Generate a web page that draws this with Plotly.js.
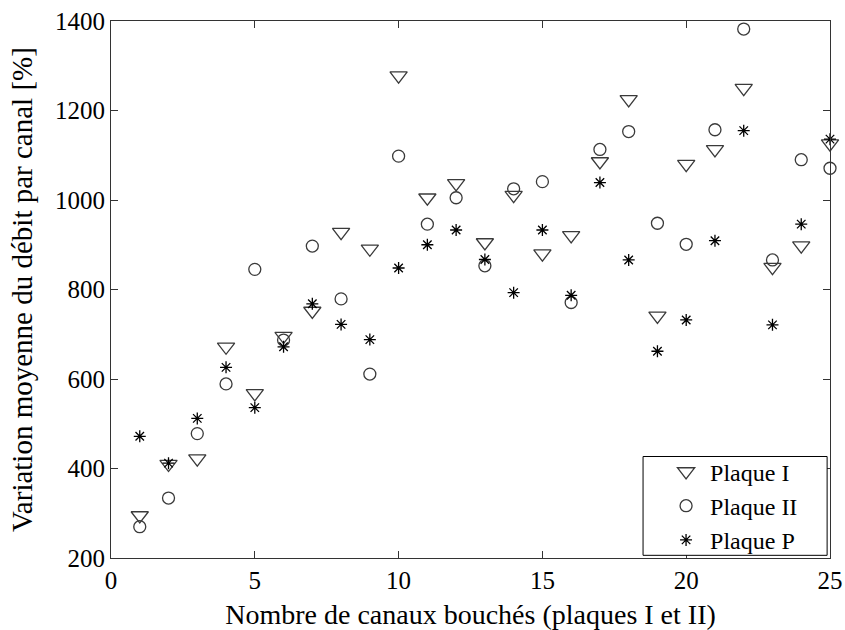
<!DOCTYPE html>
<html>
<head>
<meta charset="utf-8">
<script src="https://cdn.plot.ly/plotly-3.0.1.min.js"></script>
<style>html,body{margin:0;padding:0;background:#fff;}#chart{width:845px;height:630px;}</style>
</head>
<body>
<div id="chart"></div>
<script>
var canaux = [1,2,3,4,5,6,7,8,9,10,11,12,13,14,15,16,17,18,19,20,21,22,23,24,25];
var plaqueI  = [295,410,422,672,568,696,752,928,891,1278,1005,1037,905,1011,880,921,1086,1225,741,1080,1113,1250,850,898,1126];
var plaqueII = [270,334,478,589,845,687,897,779,611,1098,946,1005,853,1025,1041,771,1113,1153,948,901,1157,1382,866,1090,1071];
var plaqueP  = [472,412,512,626,536,672,768,722,688,848,900,933,867,793,933,787,1039,866,662,732,909,1155,721,946,1136];
var seriesNames = ['Plaque I','Plaque II','Plaque P'];
var xTickVals = [0,5,10,15,20,25];
var yTickVals = [200,400,600,800,1000,1200,1400];

var FONT = '"Liberation Serif", "Times New Roman", serif';
var traces = [
  {x: canaux, y: plaqueI, name: seriesNames[0], type: 'scatter', mode: 'markers', cliponaxis: false,
   marker: {symbol: 'triangle-down-open', size: 15, color: '#3a3a3a', line: {width: 1.3, color: '#3a3a3a'}}},
  {x: canaux, y: plaqueII, name: seriesNames[1], type: 'scatter', mode: 'markers', cliponaxis: false,
   marker: {symbol: 'circle-open', size: 12, color: '#3a3a3a', line: {width: 1.3, color: '#3a3a3a'}}},
  {x: canaux, y: plaqueP, name: seriesNames[2], type: 'scatter', mode: 'markers', cliponaxis: false,
   marker: {symbol: 'asterisk-open', size: 10, color: '#000', line: {width: 1.3, color: '#000'}}}
];
var layout = {
  width: 845, height: 630,
  margin: {l: 111, r: 15, t: 21, b: 72},
  paper_bgcolor: '#fff', plot_bgcolor: '#fff',
  font: {family: FONT, size: 25, color: '#000'},
  showlegend: true,
  legend: {x: 0.740, xanchor: 'left', y: 0.097, yanchor: 'middle',
           borderwidth: 0, bgcolor: 'rgba(0,0,0,0)',
           itemwidth: 38, indentation: 19,
           font: {family: FONT, size: 24, color: '#000'}, tracegroupgap: 0},
  shapes: [{type: 'rect', xref: 'paper', yref: 'paper', x0: 0.740, x1: 0.996, y0: 0.005, y1: 0.189,
            line: {color: '#000', width: 1}, fillcolor: '#fff', layer: 'above'}],
  xaxis: {range: [0, 25], tickvals: xTickVals, ticks: 'inside', ticklen: 7, tickcolor: '#333',
          showline: true, linecolor: '#333', linewidth: 1, mirror: 'ticks', showgrid: false, zeroline: false,
          tickfont: {family: FONT, size: 25, color: '#000'},
          title: {text: 'Nombre de canaux bouchés (plaques I et II)', font: {family: FONT, size: 28, color: '#000'}, standoff: 11}},
  yaxis: {range: [200, 1400], tickvals: yTickVals, ticks: 'inside', ticklen: 7, tickcolor: '#333',
          showline: true, linecolor: '#333', linewidth: 1, mirror: 'ticks', showgrid: false, zeroline: false,
          tickfont: {family: FONT, size: 25, color: '#000'},
          title: {text: 'Variation moyenne du débit par canal [%]', font: {family: FONT, size: 29, color: '#000'}, standoff: 13}}
};
Plotly.newPlot('chart', traces, layout, {displayModeBar: false, staticPlot: true});
</script>
</body>
</html>
